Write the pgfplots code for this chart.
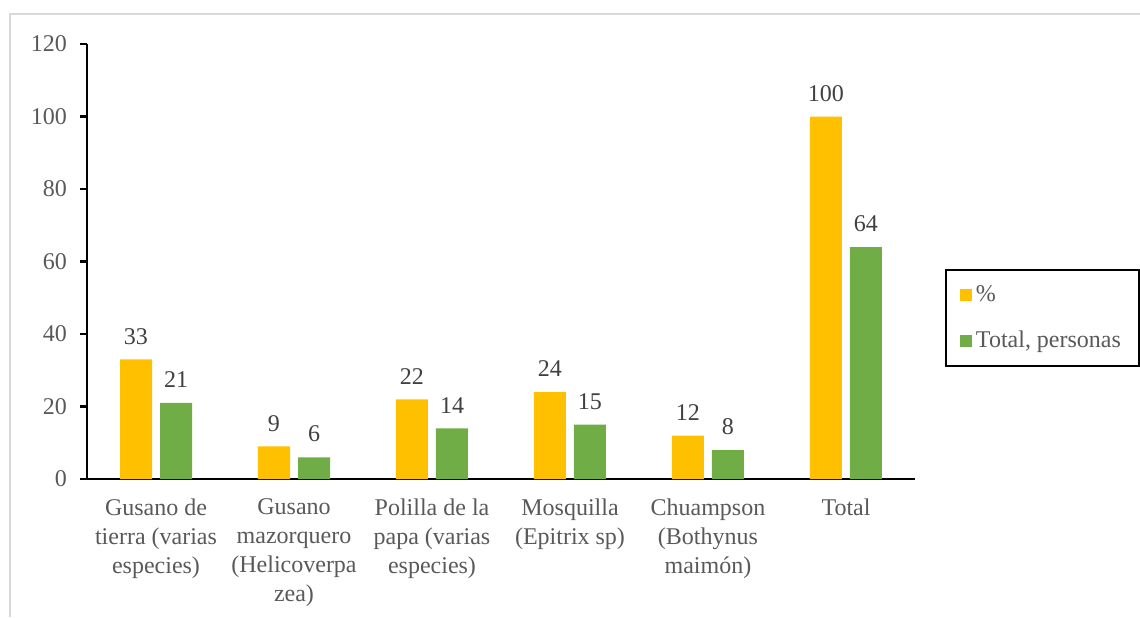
\documentclass[border=0pt]{standalone}
\usepackage{pgfplots}
\pgfplotsset{compat=1.18}
\usepackage{fontspec}
\setmainfont{Liberation Serif}
\definecolor{barorange}{HTML}{FFC000}
\definecolor{bargreen}{HTML}{70AD47}
\definecolor{ticktext}{HTML}{595959}
\definecolor{datatext}{HTML}{404040}
\definecolor{frame}{HTML}{D9D9D9}
\begin{document}
\begin{tikzpicture}
% 1 px of the reference = 0.5pt
\useasboundingbox (0pt,0pt) rectangle (570pt,-308.5pt);
\draw[frame, line width=1pt] (5pt,-308.5pt) -- (5pt,-7pt) -- (570pt,-7pt);
\begin{axis}[
    at={(43.5pt,-239.5pt)}, anchor=south west,
    scale only axis,
    width=414pt, height=217.5pt,
    ybar=4pt, bar width=16pt,
    xmin=-0.5, xmax=5.5,
    ymin=0, ymax=120,
    ytick={0,20,...,120},
    xtick={0,...,5},
    xticklabels={
        {Gusano de\\tierra (varias\\especies)},
        {Gusano\\mazorquero\\(Helicoverpa\\zea)},
        {Polilla de la\\papa (varias\\especies)},
        {Mosquilla\\(Epitrix sp)},
        {Chuampson\\(Bothynus\\maimón)},
        {Total}},
    xticklabel style={align=center, text=ticktext, font=\fontsize{12}{14.5}\selectfont, yshift=-3pt},
    yticklabel style={text=ticktext, font=\fontsize{12}{14.5}\selectfont, xshift=-3pt},
    /pgf/number format/assume math mode=true,
    axis x line*=bottom, axis y line*=left,
    axis line style={line width=1.2pt, -},
    x axis line style={shorten <=-3.5pt},
    major tick length=3.5pt,
    ytick style={line width=1.2pt, black},
    xtick style={draw=none},
    tick align=outside,
    nodes near coords,
    every node near coord/.append style={text=datatext, font=\fontsize{12}{14.5}\selectfont, yshift=4pt},
    legend style={at={(1,0.37)}, anchor=west, xshift=15pt,
        draw=black, line width=1pt, font=\fontsize{12}{14.5}\selectfont,
        text=ticktext, row sep=9pt, inner xsep=7pt, inner ysep=6pt},
    legend cell align=left,
    legend image code/.code={\fill[#1] (0pt,-3pt) rectangle (6pt,3pt);},
]
\addplot[fill=barorange, draw=none] coordinates {
    (0,33) (1,9) (2,22) (3,24) (4,12) (5,100)
};
\addplot[fill=bargreen, draw=none] coordinates {
    (0,21) (1,6) (2,14) (3,15) (4,8) (5,64)
};
\legend{\%, {Total, personas}}
\end{axis}
\end{tikzpicture}
\end{document}
